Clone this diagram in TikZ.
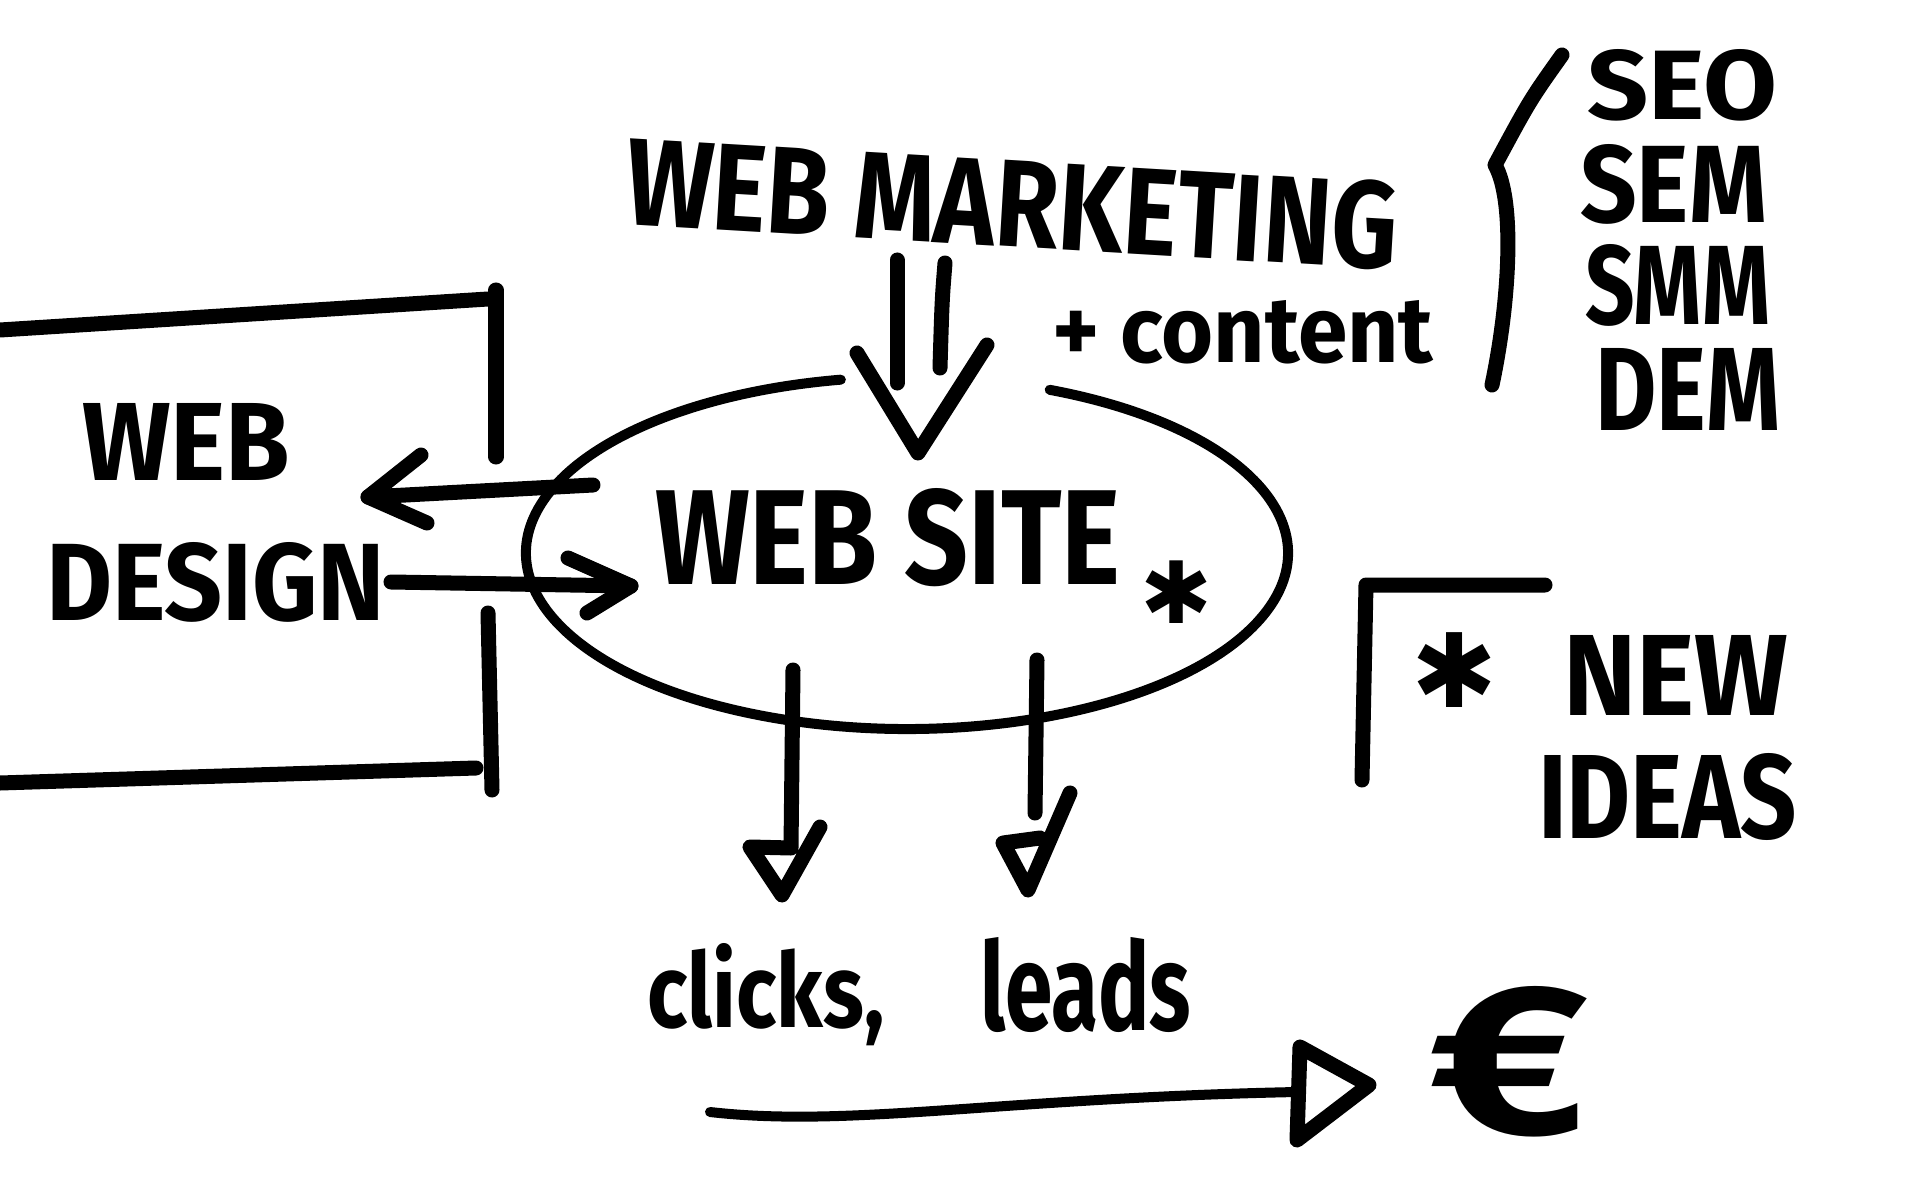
\documentclass[tikz,border=0pt]{standalone}
\usepackage{graphicx}
\usepackage{fontspec}
\setmainfont{Fira Sans}
\newfontfamily\symf{DejaVu Sans}
\newcommand\fitbox[3]{\resizebox{#1}{#2}{\bfseries #3}}
\tikzset{
  txt/.style={inner sep=0pt, outer sep=0pt},
  pen/.style={line width=0.15cm, line cap=round, line join=round},
  thinpen/.style={line width=0.1cm, line cap=round, line join=round},
}
\begin{document}
\begin{tikzpicture}[x=0.01cm,y=-0.01cm]
\useasboundingbox (0,0) rectangle (1920,1200);
% ---------- texts ----------
\node[txt, anchor=base west] (webL) at (82,480) {\fitbox{2.08cm}{0.77cm}{WEB}};
\node[txt, anchor=base west] (design) at (46,620) {\fitbox{3.39cm}{0.78cm}{DESIGN}};
\node[txt, anchor=base west] (site) at (655,584) {\fitbox{4.65cm}{0.96cm}{WEB SITE}};
\node[txt, anchor=base west, rotate=-3.4] (mkt) at (624,224) {\fitbox{7.72cm}{0.88cm}{WEB MARKETING}};
\node[txt, anchor=base west] (content) at (1052,362) {\fitbox{3.81cm}{0.62cm}{+ content}};
\node[txt, anchor=base west] (seo) at (1587,120) {\fitbox{1.90cm}{0.70cm}{SEO}};
\node[txt, anchor=base west] (sem) at (1580,222) {\fitbox{1.87cm}{0.78cm}{SEM}};
\node[txt, anchor=base west] (smm) at (1585,324) {\fitbox{1.85cm}{0.80cm}{SMM}};
\node[txt, anchor=base west] (dem) at (1595,430) {\fitbox{1.85cm}{0.82cm}{DEM}};
\node[txt, anchor=base west] (new) at (1563,715) {\fitbox{2.25cm}{0.80cm}{NEW}};
\node[txt, anchor=base west] (ideas) at (1538,838) {\fitbox{2.59cm}{0.85cm}{IDEAS}};
\node[txt, anchor=base west] (clicks) at (647,1027) {\fitbox{2.37cm}{0.84cm}{clicks,}};
\node[txt, anchor=base west] (leads) at (980,1030) {\fitbox{2.11cm}{0.93cm}{leads}};
\node[txt, anchor=base west] (euro) at (1429,1133) {\fitbox{1.60cm}{1.47cm}{€}};
\node[txt] (astA) at (1177,592) {\resizebox{0.72cm}{!}{\symf\bfseries ✱}};
\node[txt] (astB) at (1455,670) {\resizebox{0.86cm}{!}{\symf\bfseries ✱}};
% ---------- web design frame ----------
\draw[pen] (0,330) -- (488,299);
\draw[pen] (496,290) -- (496,457);
\draw[pen] (488,613) -- (492,790);
\draw[pen] (0,783) -- (476,768);
% ---------- ellipse (web site) ----------
\coordinate (ec) at (907,553);
\draw[thinpen] (ec) ++(292:381 and 176) arc[start angle=292, end angle=620, x radius=381, y radius=176];
% ---------- arrows site <-> design ----------
\coordinate (a1s) at (593,485); \coordinate (a1t) at (368,497);
\draw[pen] (a1s) -- (a1t);
\draw[pen] (421,455) -- (a1t) -- (427,523);
\coordinate (a2s) at (391,582); \coordinate (a2t) at (631,586);
\draw[pen] (a2s) -- (a2t);
\draw[pen] (568,558) -- (a2t) -- (587,613);
% ---------- marketing double arrow ----------
\coordinate (d1a) at (897,260); \coordinate (d1b) at (897,383);
\coordinate (d2a) at (945,263); \coordinate (d2b) at (940,368);
\coordinate (dtip) at (918,453);
\draw[pen] (d1a) -- (d1b);
\draw[pen] (d2a) .. controls (942,300) .. (d2b);
\draw[pen] (857,353) -- (dtip) -- (987,345);
% ---------- brace ----------
\coordinate (b1) at (1562,55); \coordinate (b2) at (1495,165); \coordinate (b3) at (1492,385);
\draw[pen] (b1) .. controls (1530,100) .. (b2) .. controls (1515,200) and (1510,300) .. (b3);
% ---------- new ideas corner ----------
\draw[pen] (1545,585) -- (1366,585) -- (1362,780);
% ---------- down arrows ----------
\coordinate (l1) at (793,670); \coordinate (l2) at (791,848); \coordinate (ltip) at (782,895);
\draw[pen] (l1) -- (l2) -- (750,847) -- (ltip) -- (820,827);
\coordinate (r1) at (1037,660); \coordinate (r2) at (1035,813); \coordinate (rtip) at (1028,890);
\draw[pen] (r1) -- (r2);
\draw[pen] (1070,793) -- (rtip) -- (1003,843) -- (1040,838);
% ---------- money arrow ----------
\coordinate (m1) at (710,1112); \coordinate (m2) at (1297,1092);
\draw[thinpen] (m1) .. controls (850,1128) and (1000,1098) .. (m2);
\draw[pen] (1300,1047) -- (1369,1085) -- (1297,1140) -- cycle;
\end{tikzpicture}
\end{document}
